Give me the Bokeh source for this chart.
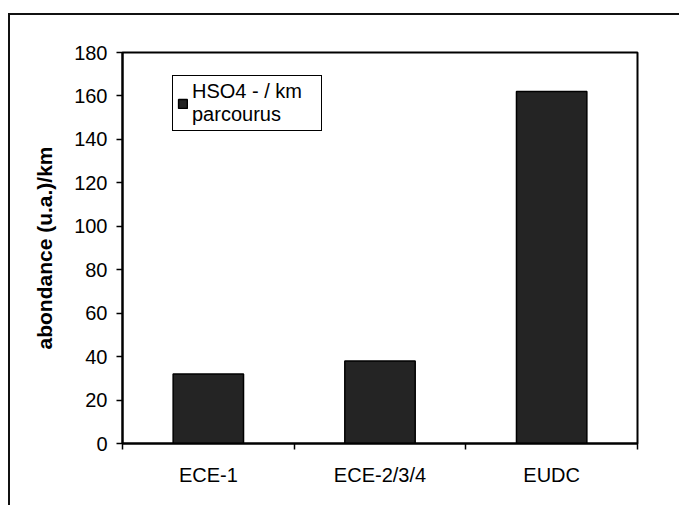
from bokeh.plotting import figure
from bokeh.models import Range1d, FixedTicker, ColumnDataSource
from bokeh.embed import file_html
from bokeh.resources import INLINE

# Data
categories = ["ECE-1", "ECE-2/3/4", "EUDC"]
values = [32, 38, 162]
series_name = "HSO4 - / km\nparcourus"
y_ticks = [0, 20, 40, 60, 80, 100, 120, 140, 160, 180]
y_label = "abondance (u.a.)/km"

FONT = "Liberation Sans"

xs = [i + 0.5 for i in range(len(categories))]
src = ColumnDataSource(dict(x=xs, top=values, cat=categories))

p = figure(width=671, height=492, output_backend="svg", toolbar_location=None,
           x_range=Range1d(0, len(categories)), y_range=Range1d(0, 180),
           min_border_left=112, min_border_top=37, min_border_right=44, min_border_bottom=64)
p.styles = {"border-top": "2px solid #111", "border-left": "2px solid #111",
            "margin-top": "13px", "margin-left": "8px"}

p.vbar(x="x", top="top", width=0.41, source=src, fill_color="#242424",
       line_color="black", line_width=1.5, legend_label=series_name)

p.xgrid.visible = False
p.ygrid.visible = False
p.outline_line_color = "black"
p.outline_line_alpha = 1
p.outline_line_width = 2
p.background_fill_color = "white"
p.border_fill_color = "white"

# x axis: labels at category centres, ticks at boundaries
xa = p.xaxis[0]
xa.ticker = FixedTicker(ticks=xs, minor_ticks=list(range(len(categories) + 1)))
xa.major_label_overrides = {x: c for x, c in zip(xs, categories)}
xa.major_tick_out = 0
xa.major_tick_in = 0
xa.minor_tick_out = 6
xa.minor_tick_in = 0
xa.minor_tick_line_color = "black"
xa.minor_tick_line_width = 1.5
xa.axis_line_color = "black"
xa.axis_line_width = 2
xa.major_label_text_font = FONT
xa.major_label_text_font_size = "20px"
xa.major_label_text_color = "black"
xa.major_label_standoff = 14

ya = p.yaxis[0]
ya.ticker = FixedTicker(ticks=y_ticks, minor_ticks=[])
ya.major_tick_out = 6
ya.major_tick_in = 0
ya.major_tick_line_color = "black"
ya.major_tick_line_width = 1.5
ya.axis_line_color = "black"
ya.axis_line_width = 2
ya.major_label_text_font = FONT
ya.major_label_text_font_size = "20px"
ya.major_label_text_color = "black"
ya.major_label_standoff = 9
ya.axis_label = y_label
ya.axis_label_text_font = FONT
ya.axis_label_text_font_size = "21px"
ya.axis_label_text_font_style = "bold"
ya.axis_label_text_color = "black"
ya.axis_label_standoff = 15

lg = p.legend[0]
lg.location = (50, 312)
lg.border_line_color = "black"
lg.border_line_alpha = 1
lg.border_line_width = 1.5
lg.background_fill_alpha = 1
lg.label_text_font = FONT
lg.label_text_font_size = "20px"
lg.label_text_color = "black"
lg.label_width = 125
lg.glyph_width = 11
lg.glyph_height = 11
lg.label_standoff = 4
lg.padding = 4
lg.margin = 0

open("out.html", "w").write(file_html(p, INLINE))
